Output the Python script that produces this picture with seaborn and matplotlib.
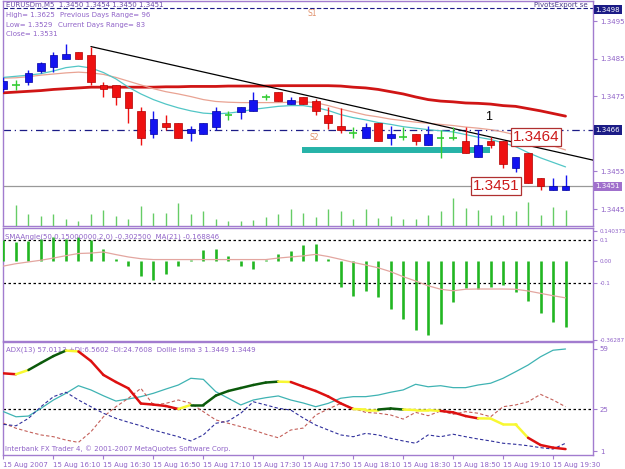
import matplotlib
matplotlib.use("Agg")
import matplotlib.pyplot as plt
import matplotlib.transforms as mtrans
import numpy as np
import pandas as pd
import seaborn as sns

# ------------------------------------------------------------------ data
bar_index = list(range(46))
open_ = [1.34769, 1.34780, 1.34789, 1.34818, 1.34828, 1.34849, 1.34867, 1.34860, 1.34780, 1.34780,
         1.34762, 1.34711, 1.34649, 1.34680, 1.34680, 1.34651, 1.34649, 1.34669, 1.34700, 1.34709,
         1.34711, 1.34749, 1.34760, 1.34729, 1.34749, 1.34737, 1.34700, 1.34671, 1.34651, 1.34640,
         1.34678, 1.34640, 1.34642, 1.34649, 1.34620, 1.34640, 1.34640, 1.34632, 1.34589, 1.34632,
         1.34632, 1.34560, 1.34598, 1.34532, 1.34501, 1.34501]
high = [1.34800, 1.34793, 1.34820, 1.34840, 1.34868, 1.34889, 1.34867, 1.34882, 1.34789, 1.34780,
        1.34762, 1.34722, 1.34711, 1.34700, 1.34680, 1.34671, 1.34680, 1.34720, 1.34711, 1.34720,
        1.34762, 1.34757, 1.34760, 1.34749, 1.34749, 1.34742, 1.34720, 1.34718, 1.34667, 1.34680,
        1.34678, 1.34671, 1.34667, 1.34649, 1.34671, 1.34660, 1.34667, 1.34669, 1.34660, 1.34642,
        1.34632, 1.34589, 1.34598, 1.34532, 1.34532, 1.34540]
low = [1.34760, 1.34767, 1.34780, 1.34812, 1.34815, 1.34849, 1.34849, 1.34780, 1.34749, 1.34727,
       1.34678, 1.34620, 1.34638, 1.34660, 1.34638, 1.34631, 1.34649, 1.34660, 1.34687, 1.34689,
       1.34711, 1.34740, 1.34738, 1.34729, 1.34729, 1.34700, 1.34662, 1.34651, 1.34638, 1.34640,
       1.34632, 1.34620, 1.34633, 1.34620, 1.34620, 1.34585, 1.34633, 1.34600, 1.34589, 1.34611,
       1.34560, 1.34549, 1.34520, 1.34501, 1.34501, 1.34501]
close = [1.34790, 1.34780, 1.34811, 1.34839, 1.34860, 1.34861, 1.34849, 1.34789, 1.34768, 1.34749,
         1.34718, 1.34638, 1.34689, 1.34669, 1.34638, 1.34662, 1.34680, 1.34711, 1.34700, 1.34720,
         1.34740, 1.34749, 1.34738, 1.34740, 1.34729, 1.34711, 1.34678, 1.34660, 1.34651, 1.34669,
         1.34632, 1.34649, 1.34642, 1.34632, 1.34649, 1.34640, 1.34640, 1.34600, 1.34620, 1.34620,
         1.34570, 1.34589, 1.34520, 1.34511, 1.34512, 1.34512]
volume = [0, 64, 37, 29, 37, 22, 16, 35, 47, 30, 22, 59, 39, 39, 68, 37, 46, 20, 15, 15,
          17, 27, 35, 51, 39, 28, 51, 44, 20, 51, 25, 31, 20, 22, 32, 44, 85, 55, 49, 34,
          34, 44, 72, 34, 56, 49]
ma_slow = [1.34759, 1.34761, 1.34763, 1.34765, 1.34768, 1.34770, 1.34772, 1.34774, 1.34774, 1.34774,
           1.34774, 1.34774, 1.34774, 1.34775, 1.34775, 1.34776, 1.34776, 1.34776, 1.34777, 1.34777,
           1.34777, 1.34777, 1.34778, 1.34778, 1.34778, 1.34778, 1.34778, 1.34777, 1.34774, 1.34772,
           1.34768, 1.34762, 1.34756, 1.34748, 1.34741, 1.34737, 1.34735, 1.34732, 1.34731, 1.34729,
           1.34725, 1.34723, 1.34717, 1.34711, 1.34704, 1.34697]
ma_mid = [1.34798, 1.34799, 1.34802, 1.34806, 1.34809, 1.34812, 1.34814, 1.34812, 1.34808, 1.34800,
          1.34790, 1.34780, 1.34770, 1.34762, 1.34756, 1.34749, 1.34741, 1.34736, 1.34734, 1.34733,
          1.34733, 1.34733, 1.34733, 1.34734, 1.34735, 1.34733, 1.34725, 1.34716, 1.34708, 1.34700,
          1.34695, 1.34689, 1.34685, 1.34681, 1.34678, 1.34675, 1.34672, 1.34668, 1.34665, 1.34661,
          1.34655, 1.34647, 1.34639, 1.34628, 1.34618, 1.34607]
ma_fast = [1.34800, 1.34803, 1.34806, 1.34810, 1.34817, 1.34826, 1.34830, 1.34825, 1.34813, 1.34796,
           1.34774, 1.34756, 1.34741, 1.34729, 1.34719, 1.34711, 1.34705, 1.34703, 1.34705, 1.34709,
           1.34715, 1.34719, 1.34723, 1.34725, 1.34725, 1.34720, 1.34712, 1.34701, 1.34693, 1.34687,
           1.34680, 1.34675, 1.34669, 1.34665, 1.34661, 1.34658, 1.34655, 1.34648, 1.34641, 1.34635,
           1.34626, 1.34616, 1.34600, 1.34586, 1.34574, 1.34562]
trend_x = [7, 47.2]
trend_y = [1.34882, 1.34580]
s2_zone_x = [23.9, 38.95]
s2_zone_price = 1.34607
pivot_line = 1.34985
fractal_line = 1.3466
bid_price = 1.3451
price_ticks = [1.3445, 1.3455, 1.3475, 1.3485, 1.3495]

sma_angle = [0.097, 0.089, 0.093, 0.105, 0.112, 0.105, 0.112, 0.097, 0.058, 0.009,
             -0.023, -0.068, -0.088, -0.057, -0.023, 0.005, 0.051, 0.058, 0.023, -0.023,
             -0.034, 0.005, 0.035, 0.048, 0.074, 0.080, 0.010, -0.118, -0.158, -0.139,
             -0.165, -0.218, -0.266, -0.316, -0.342, -0.289, -0.188, -0.123, -0.126, -0.120,
             -0.111, -0.141, -0.185, -0.238, -0.280, -0.3025]
sma_angle_ma = [-0.022, -0.011, -0.003, 0.005, 0.015, 0.026, 0.036, 0.038, 0.043, 0.031,
                0.020, 0.012, 0.008, 0.008, 0.008, 0.008, 0.008, 0.008, 0.008, 0.008,
                0.008, 0.008, 0.015, 0.020, 0.025, 0.032, 0.022, 0.009, -0.005, -0.017,
                -0.030, -0.048, -0.071, -0.091, -0.113, -0.129, -0.136, -0.129, -0.128, -0.128,
                -0.128, -0.129, -0.137, -0.148, -0.159, -0.1688]
angle_ticks = [-0.36287, -0.1, 0.0, 0.1, 0.140375]
angle_tick_labels = ["-0.36287", "-0.1", "0.00", "0.1", "0.140375"]

adx = [23.5, 20.6, 21.0, 25.4, 30.1, 33.9, 38.2, 35.8, 32.5, 29.5,
       30.7, 32.0, 33.9, 36.3, 38.6, 42.4, 41.8, 34.8, 31.1, 27.3,
       30.1, 31.4, 32.4, 30.1, 28.4, 26.3, 28.2, 31.1, 32.0, 32.0,
       32.9, 34.5, 35.8, 39.0, 37.6, 38.2, 37.1, 37.1, 38.6, 39.6,
       42.4, 46.1, 49.9, 54.6, 58.3, 59.0]
minus_di = [16.9, 14.1, 12.1, 10.3, 9.3, 7.4, 6.1, 12.1, 20.6, 26.3,
            31.1, 36.7, 27.3, 28.2, 30.1, 28.2, 23.5, 18.8, 16.9, 15.0,
            13.1, 10.7, 8.7, 13.1, 14.2, 21.6, 25.0, 28.2, 25.4, 23.1,
            22.6, 21.6, 19.3, 23.1, 21.2, 23.9, 22.0, 23.5, 22.6, 20.6,
            26.3, 27.3, 29.1, 33.3, 30.1, 26.3]
plus_di = [16.3, 15.5, 19.7, 26.3, 32.0, 34.5, 30.1, 26.3, 22.6, 19.7,
           17.5, 15.5, 13.1, 11.2, 9.3, 6.9, 10.3, 16.9, 18.2, 22.6,
           29.1, 27.3, 25.4, 24.4, 19.9, 15.9, 13.1, 10.3, 9.3, 11.2,
           10.3, 8.4, 6.9, 5.6, 10.3, 9.3, 10.7, 9.3, 8.0, 6.9,
           5.6, 5.0, 4.2, 3.1, 2.3, 5.6]
lsma = [45.2, 44.7, 47.1, 51.1, 55.0, 58.1, 57.6, 52.2, 44.3, 40.3,
        36.7, 28.1, 27.5, 26.7, 25.0, 27.3, 27.3, 32.6, 35.2, 36.9,
        38.6, 40.0, 40.5, 40.3, 37.7, 35.2, 32.1, 28.2, 25.0, 24.7,
        24.7, 25.3, 24.7, 24.4, 24.4, 23.9, 23.1, 21.0, 19.7, 19.6,
        16.3, 16.3, 8.7, 4.6, 3.1, 2.3]
lsma_state = list("rygggyrrrrrrrrygggggggyrrrrryyggyyyrrryyyyrrr")
adx_ticks = [1, 25, 59]

time_tick_bars = [0, 4, 8, 12, 16, 20, 24, 28, 32, 36, 40, 44]
time_labels = ["15 Aug 2007", "15 Aug 16:10", "15 Aug 16:30", "15 Aug 16:50", "15 Aug 17:10",
               "15 Aug 17:30", "15 Aug 17:50", "15 Aug 18:10", "15 Aug 18:30", "15 Aug 18:50",
               "15 Aug 19:10", "15 Aug 19:30"]

# ------------------------------------------------------------------ style
sns.set_style("white")
plt.rcParams["font.family"] = ["DejaVu Sans"]
PURPLE = "#9063c8"
FRAME = "#a27ccf"
NAVY = "#1c1c86"
BLUE = "#1414f0"
RED = "#ee1111"
GREEN = "#33cc33"
FS = 5

W, H = 625, 469
fig = plt.figure(figsize=(W / 100, H / 100), dpi=100)
fig.patch.set_facecolor("white")


def px_axes(left, top, right, bottom):
    return fig.add_axes([left / W, 1 - bottom / H, (right - left) / W, (bottom - top) / H])


ax1 = px_axes(3, 1, 593, 226)
ax2 = px_axes(3, 228, 593, 341)
ax3 = px_axes(3, 342, 593, 455)
XLIM = (-0.04, 47.2)

# volume overlay in the main window (own scale)
vax = ax1.twinx()
vax.vlines(bar_index, 0, volume, color="#66cc66", lw=1.0)
vax.set_ylim(0, 675)
vax.set_xlim(*XLIM)
vax.axis("off")

for ax in (ax1, ax2, ax3):
    ax.set_facecolor("white")
    ax.set_xlim(*XLIM)
    for sp in ax.spines.values():
        sp.set_color(FRAME)
        sp.set_linewidth(1.0)
    ax.yaxis.tick_right()
    ax.yaxis.set_label_position("right")
    ax.tick_params(axis="y", length=3, width=0.8, color=FRAME, labelsize=FS,
                   labelcolor=PURPLE, pad=2, right=True, left=False,
                   labelright=True, labelleft=False)
    ax.grid(False)
for ax in (ax1, ax2):
    ax.set_xticks([])

# ------------------------------------------------------------------ main panel
df = pd.DataFrame({"x": bar_index, "o": open_, "h": high, "l": low, "c": close})
up = df[df.c > df.o]
dn = df[df.c < df.o]
dj = df[df.c == df.o]

ax1.vlines(up.x, up.l, up.h, color=BLUE, lw=1.0, zorder=4)
ax1.vlines(dn.x, dn.l, dn.h, color=RED, lw=1.0, zorder=4)
ax1.vlines(dj.x, dj.l, dj.h, color=GREEN, lw=1.0, zorder=4)
ax1.hlines(dj.o, dj.x - 0.3, dj.x + 0.3, color=GREEN, lw=1.2, zorder=4)
ax1.bar(up.x, up.c - up.o, bottom=up.o, width=0.62, color=BLUE, edgecolor="#0000a0", lw=0.5, zorder=5)
ax1.bar(dn.x, dn.c - dn.o, bottom=dn.o, width=0.62, color=RED, edgecolor="#b00000", lw=0.5, zorder=5)

sns.lineplot(x=bar_index, y=ma_slow, ax=ax1, color="#d01515", lw=2.0, zorder=3)
sns.lineplot(x=bar_index, y=ma_mid, ax=ax1, color="#e9a393", lw=0.9, zorder=3)
sns.lineplot(x=bar_index, y=ma_fast, ax=ax1, color="#52c6c6", lw=0.9, zorder=3)

ax1.axhline(pivot_line, color=NAVY, ls=(0, (4, 2)), lw=0.8, zorder=2)
ax1.axhline(fractal_line, color=NAVY, ls=(0, (6, 3, 1, 3)), lw=0.9, zorder=2)
ax1.axhline(bid_price, color="#999999", lw=0.9, zorder=2)
ax1.plot(trend_x, trend_y, color="black", lw=0.9, zorder=3)
ax1.hlines(s2_zone_price, s2_zone_x[0], s2_zone_x[1], color="#27b3a8", lw=4.3, zorder=3)

ax1.set_ylim(1.344048, 1.350032)
ax1.set_yticks(price_ticks)
ax1.set_yticklabels([f"{v:.4f}" for v in price_ticks])
ax1.set_ylabel("")


def f1(xp, yp):
    return ((xp - 3) / 590, (226 - yp) / 225)


def t1(xp, yp, s, **kw):
    ax1.text(*f1(xp, yp), s, transform=ax1.transAxes, va="center", ha="left", **kw)


t1(6, 5, "EURUSDm,M5  1.3450 1.3454 1.3450 1.3451", fontsize=FS, color="#6a4aa8")
t1(6, 15, "High= 1.3625", fontsize=FS, color=PURPLE)
t1(60, 15, "Previous Days Range= 96", fontsize=FS, color=PURPLE)
t1(6, 25, "Low= 1.3529", fontsize=FS, color=PURPLE)
t1(58, 25, "Current Days Range= 83", fontsize=FS, color=PURPLE)
t1(6, 34, "Close= 1.3531", fontsize=FS, color=PURPLE)
t1(308, 14, "S1", fontsize=FS + 0.5, color="#e0906a")
t1(309, 137, "S2", fontsize=FS + 0.5, color="#e0906a")
ax1.text(*f1(588, 5), "PivotsExport se", transform=ax1.transAxes, va="center", ha="right",
         fontsize=FS, color="#4a3a8a")
t1(485, 117, "1", fontsize=9, color="black", family=["Liberation Sans"])
ax1.text(*f1(536, 137), "1.3464", transform=ax1.transAxes, ha="center", va="center",
         fontsize=11, color="#cc1a1a", family=["Liberation Sans"],
         bbox=dict(boxstyle="square,pad=0.1", fc="white", ec="#b03030", lw=0.9), zorder=6)
ax1.text(*f1(496, 186), "1.3451", transform=ax1.transAxes, ha="center", va="center",
         fontsize=11, color="#cc1a1a", family=["Liberation Sans"],
         bbox=dict(boxstyle="square,pad=0.1", fc="white", ec="#b03030", lw=0.9), zorder=6)

tr1 = mtrans.blended_transform_factory(ax1.transAxes, ax1.transData)
for val, fc in ((1.3498, NAVY), (fractal_line, NAVY), (bid_price, "#a070cc")):
    ax1.text(1.004, val, f"{val:.4f}", transform=tr1, ha="left", va="center", fontsize=FS,
             color="white", clip_on=False,
             bbox=dict(boxstyle="square,pad=0.25", fc=fc, ec="none"), zorder=7)

# ------------------------------------------------------------------ SMA angle panel
ax2.vlines(bar_index, 0, sma_angle, color="#22b622", lw=1.9, zorder=3)
sns.lineplot(x=bar_index, y=sma_angle_ma, ax=ax2, color="#e3a6a0", lw=0.9, zorder=4)
ax2.axhline(0.1, color="black", ls=(0, (2, 2)), lw=0.9, zorder=2)
ax2.axhline(-0.1, color="black", ls=(0, (2, 2)), lw=0.9, zorder=2)
ax2.set_ylim(-0.3681, 0.1538)
ax2.set_yticks(angle_ticks)
ax2.set_yticklabels(angle_tick_labels)
ax2.tick_params(axis="y", labelsize=4.1, pad=1.5)
ax2.set_ylabel("")
ax2.text((5 - 3) / 590, (341 - 237) / 113,
         "SMAAngle(50,0.15000000,2,0) -0.302500  MA(21) -0.168846",
         transform=ax2.transAxes, fontsize=FS, color=PURPLE, va="center", ha="left")

# ------------------------------------------------------------------ ADX panel
ax3.axhline(25, color="black", ls=(0, (2, 2)), lw=0.9, zorder=2)
sns.lineplot(x=bar_index, y=adx, ax=ax3, color="#3fb3b3", lw=0.9, zorder=3)
sns.lineplot(x=bar_index, y=minus_di, ax=ax3, color="#c4605a", lw=0.8, zorder=3,
             linestyle=(0, (3, 2)))
sns.lineplot(x=bar_index, y=plus_di, ax=ax3, color="#30309c", lw=0.8, zorder=3,
             linestyle=(0, (3, 2)))
lsma_colors = {"r": "#dd1010", "y": "#f8f832", "g": "#0b5a0b"}
for i, s in enumerate(lsma_state):
    ax3.plot(bar_index[i:i + 2], lsma[i:i + 2], color=lsma_colors[s], lw=1.8,
             solid_capstyle="round", zorder=4)
ax3.set_ylim(-1.06, 62.96)
ax3.set_yticks(adx_ticks)
ax3.set_yticklabels([str(v) for v in adx_ticks])
ax3.set_ylabel("")
ax3.set_xticks(time_tick_bars)
ax3.set_xticklabels(time_labels, ha="left")
ax3.tick_params(axis="x", length=3, width=0.8, color=FRAME, labelsize=FS,
                labelcolor=PURPLE, pad=2, bottom=True)
ax3.text((6 - 3) / 590, (455 - 350) / 113,
         "ADX(13) 57.0113 +DI:6.5602 -DI:24.7608  Dollie lsma 3 1.3449 1.3449",
         transform=ax3.transAxes, fontsize=FS, color=PURPLE, va="center", ha="left")
ax3.text((5 - 3) / 590, (455 - 449) / 113,
         "Interbank FX Trader 4, \u00a9 2001-2007 MetaQuotes Software Corp.",
         transform=ax3.transAxes, fontsize=FS, color=PURPLE, va="center", ha="left")

fig.savefig("out.png", dpi=100, facecolor="white")
